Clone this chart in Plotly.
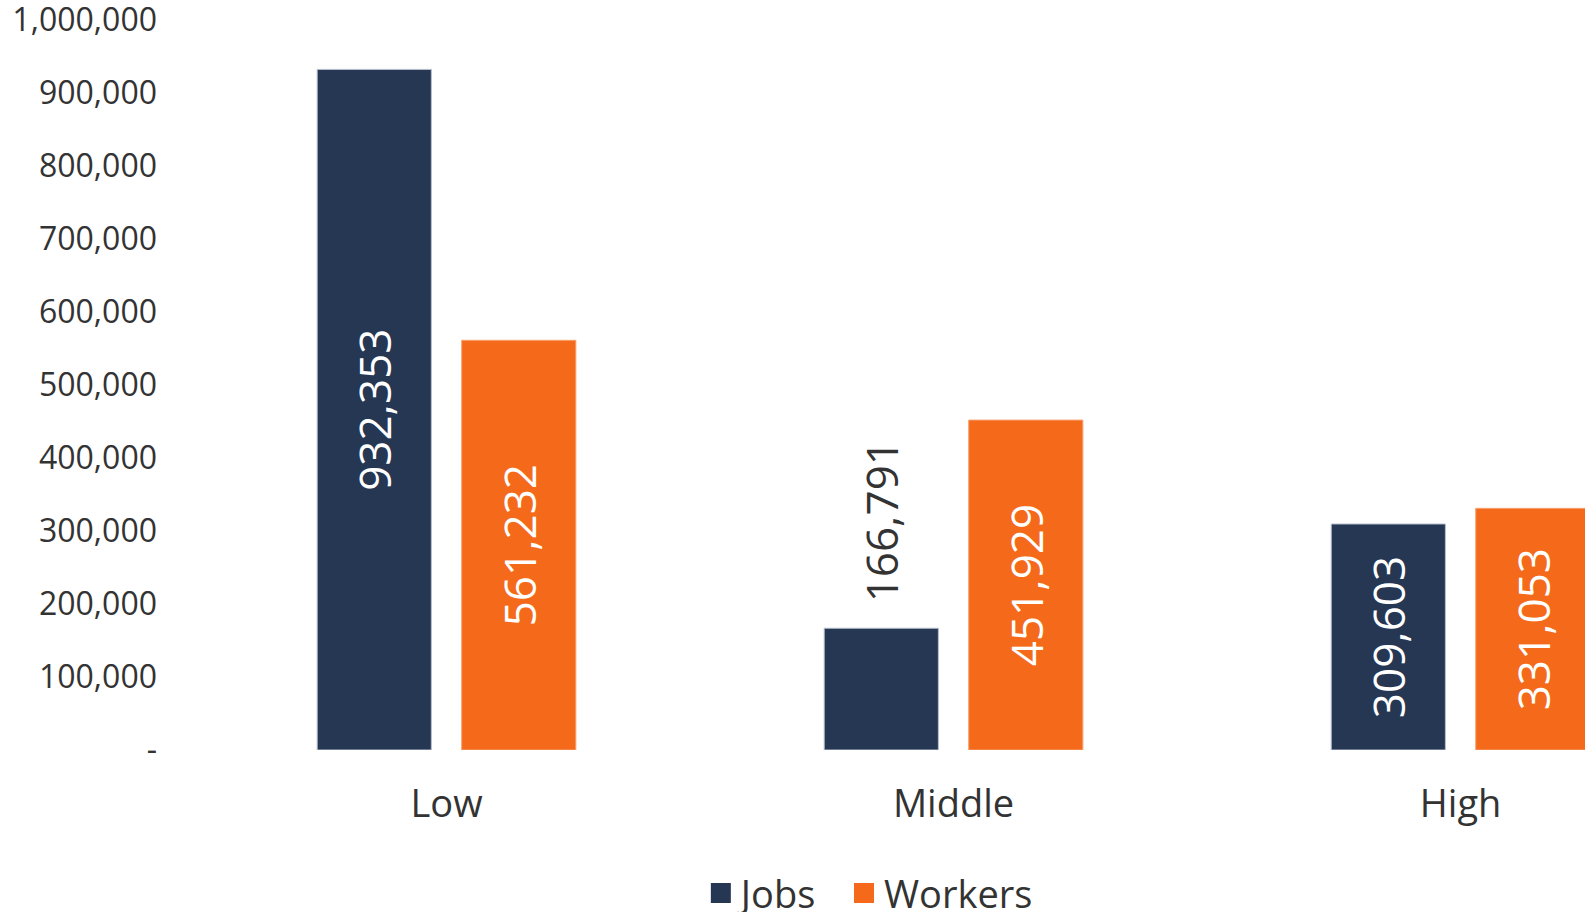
import plotly.graph_objects as go

categories = ["Low", "Middle", "High"]
jobs = [932353, 166791, 309603]
workers = [561232, 451929, 331053]
tick_vals = [0, 100000, 200000, 300000, 400000, 500000, 600000, 700000, 800000, 900000, 1000000]
tick_text = ["-", "100,000", "200,000", "300,000", "400,000", "500,000", "600,000",
             "700,000", "800,000", "900,000", "1,000,000"]

NAVY = "#263754"
ORANGE = "#F46A1A"
TXT = "#333333"
FONT = "Open Sans"

jobs_pos = ["inside", "outside", "inside"]
jobs_text = [f"{v:,}" if p == "inside" else "\u00a0" * 2 + f"{v:,}" for v, p in zip(jobs, jobs_pos)]

fig = go.Figure()
fig.add_trace(go.Bar(
    name="Jobs", x=categories, y=jobs, marker=dict(color=NAVY, line=dict(color="#B8C0CC", width=1)),
    text=jobs_text, textposition=jobs_pos, textangle=-90, insidetextanchor="middle",
    insidetextfont=dict(color="white", size=44, family=FONT),
    outsidetextfont=dict(color=TXT, size=44, family=FONT),
    constraintext="none", cliponaxis=False, hoverinfo="skip", showlegend=False,
))
fig.add_trace(go.Bar(
    name="Workers", x=categories, y=workers, marker=dict(color=ORANGE, line=dict(color="#F7A070", width=1)),
    text=[f"{v:,}" for v in workers], textposition="inside", textangle=-90, insidetextanchor="middle",
    insidetextfont=dict(color="white", size=44, family=FONT),
    constraintext="none", hoverinfo="skip", showlegend=False,
))
# legend entries with larger square swatches
for nm, col in [("Jobs\u00a0\u00a0", NAVY), ("Workers", ORANGE)]:
    fig.add_trace(go.Scatter(name=nm, x=[None], y=[None], mode="markers",
                             marker=dict(symbol="square", size=16, color=col,
                                         line=dict(color=col, width=4)),
                             hoverinfo="skip"))

fig.update_layout(
    width=1601, height=921,
    margin=dict(l=193, r=0, t=20, b=171, autoexpand=False),
    paper_bgcolor="white", plot_bgcolor="white",
    barmode="group", bargap=0.43, bargroupgap=0.21,
    font=dict(family=FONT, color=TXT, size=32),
    showlegend=True,
    legend=dict(orientation="h", xref="container", yref="container", x=0.543, y=0.03,
                xanchor="center", yanchor="middle", font=dict(size=38, color=TXT),
                itemwidth=30, traceorder="normal"),
)
fig.update_xaxes(range=[-0.5, 2.277], showgrid=False, showline=False, ticks="", automargin=False,
                 tickfont=dict(size=38, color=TXT), ticklabelstandoff=28)
fig.update_yaxes(range=[0, 1000000], tickvals=tick_vals, ticktext=tick_text, showgrid=False,
                 showline=False, zeroline=False, ticks="", automargin=False,
                 tickfont=dict(size=32, color=TXT), ticklabelstandoff=35,
                 ticklabeloverflow="allow")

fig.write_html("out.html", config={"displayModeBar": False},
               post_script="document.body.style.margin='0';document.body.style.overflow='hidden';")
